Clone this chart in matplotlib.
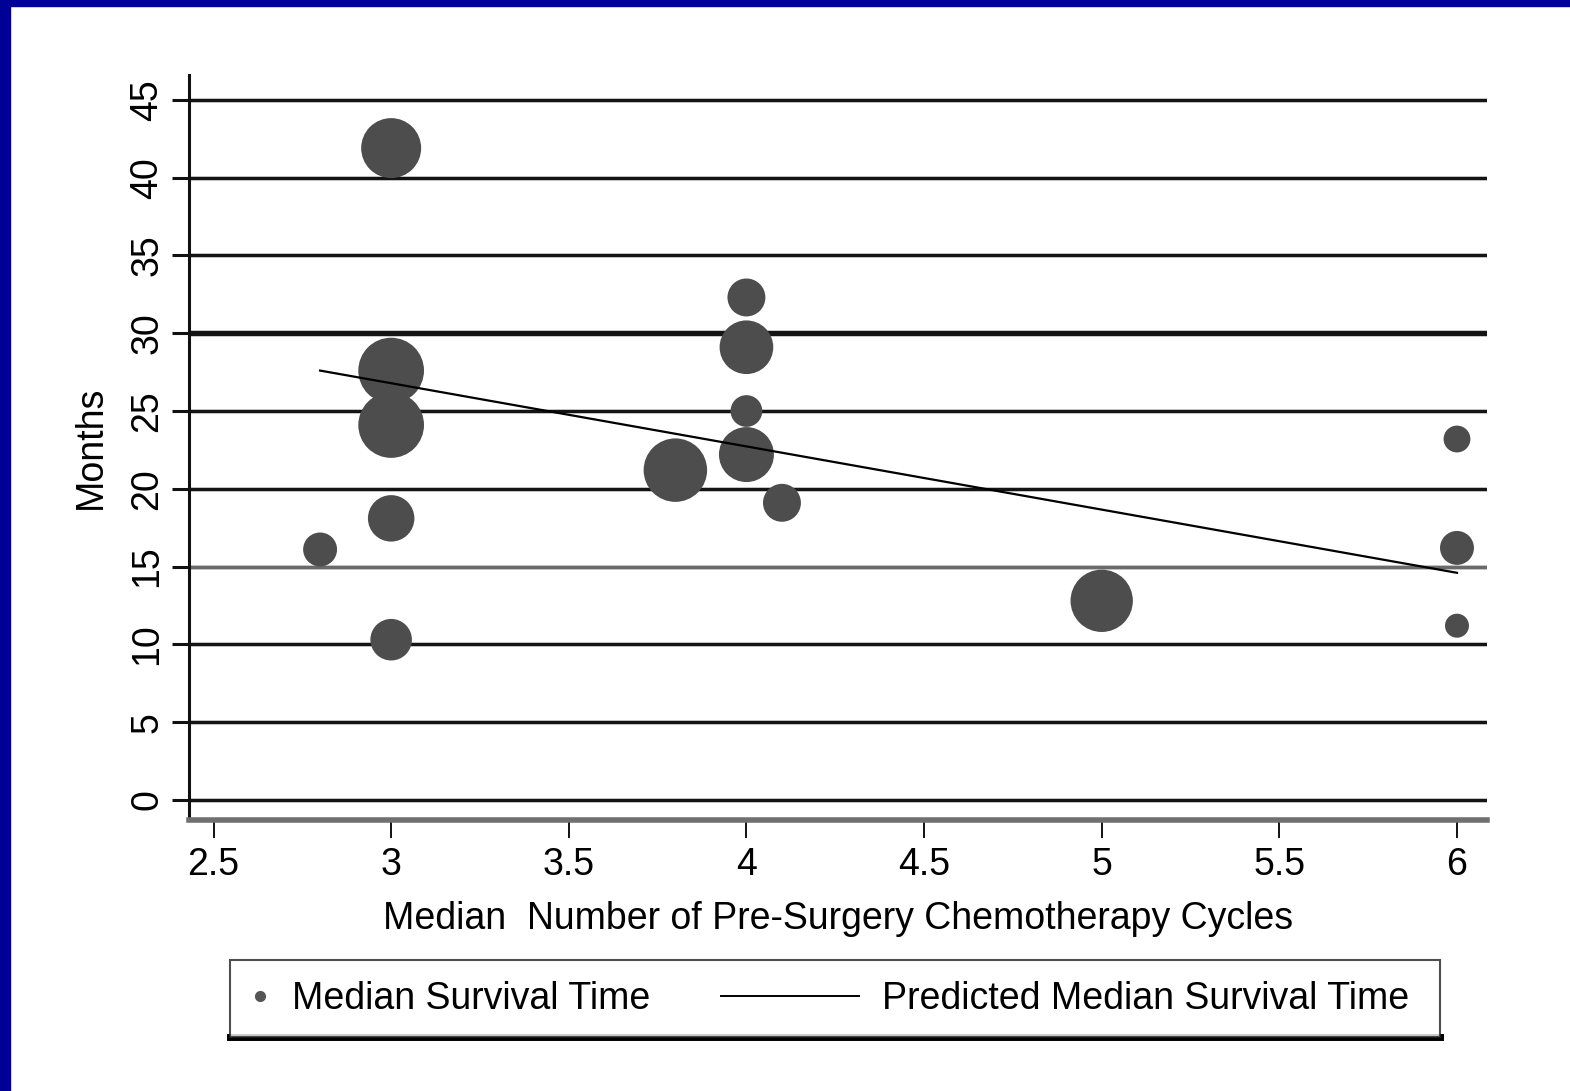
import matplotlib
matplotlib.use("Agg")
import matplotlib.pyplot as plt
import numpy as np
from matplotlib.lines import Line2D
from matplotlib.patches import Rectangle
from matplotlib.legend_handler import HandlerLine2D

plt.rcParams['font.family'] = ['Liberation Sans', 'DejaVu Sans']

# median number of cycles, median survival (months), relative study weight
cycles = [2.8, 3, 3, 3, 3, 3, 3.8, 4, 4, 4, 4, 4.1, 5, 6, 6, 6]
survival = [16.1, 41.9, 27.6, 24.1, 18.1, 10.3, 21.2, 32.3, 29.1, 25.0, 22.2, 19.1, 12.8, 23.2, 16.2, 11.2]
weight = [8, 25, 30, 30, 15, 12, 28, 10, 20, 7, 21, 10, 27, 5, 8, 4]

# fitted line end points
pred_x = [2.8, 6.0]
pred_y = [27.6, 14.6]

y_ticks = [0, 5, 10, 15, 20, 25, 30, 35, 40, 45]
x_ticks = [2.5, 3, 3.5, 4, 4.5, 5, 5.5, 6]
x_labels = ['2.5', '3', '3.5', '4', '4.5', '5', '5.5', '6']

fs = 27

fig = plt.figure(figsize=(15.7, 10.91), dpi=100)
fig.patch.set_facecolor('white')
# blue slide frame on the left and top
fig.add_artist(Rectangle((0, 0), 10 / 1570, 1, transform=fig.transFigure, color='#000099', zorder=0))
fig.add_artist(Rectangle((0, 1 - 6 / 1091), 1, 6 / 1091, transform=fig.transFigure, color='#000099', zorder=0))

ax = fig.add_axes([189 / 1570, 1 - 820 / 1091, (1487 - 189) / 1570, (820 - 75) / 1091])

# horizontal rules
for yv in y_ticks:
    lw = 3.6 if yv == 30 else 2.2
    col = '#6a6a6a' if yv == 15 else '#141414'
    ax.axhline(yv, color='#bdbdbd', lw=lw + 1.2, zorder=1)
    ax.axhline(yv, color=col, lw=lw, zorder=1.5)

s = np.array(weight) * 74.6
ax.scatter(cycles, survival, s=s, color='#4d4d4d', edgecolors='none', zorder=3)
ax.plot(pred_x, pred_y, color='black', lw=1.6, zorder=4)

ax.set_xlim(2.431, 6.0845)
ax.set_ylim(-1.29, 46.6)
ax.set_xticks(x_ticks)
ax.set_xticklabels(x_labels)
ax.set_yticks(y_ticks)

for side in ['top', 'right']:
    ax.spines[side].set_visible(False)
ax.spines['left'].set_color('#111111')
ax.spines['left'].set_linewidth(2.2)
ax.spines['bottom'].set_color('#707070')
ax.spines['bottom'].set_linewidth(4)

ax.tick_params(axis='x', length=13, width=1.4, color='#111111', pad=6.5, labelsize=fs)
ax.tick_params(axis='y', length=12, width=2.2, color='#111111', pad=5, labelsize=fs, labelrotation=90)
for t in ax.get_yticklabels():
    t.set_va('center')

ax.set_xlabel('Median  Number of Pre-Surgery Chemotherapy Cycles', fontsize=fs, labelpad=13)
ax.set_ylabel('Months', fontsize=fs, labelpad=15)


class LongLine(HandlerLine2D):
    def create_artists(self, legend, orig_handle, xdescent, ydescent, width, height, fontsize, trans):
        y = height / 2 - ydescent
        line = Line2D([width - 3.7 * fontsize, width], [y, y])
        self.update_prop(line, orig_handle, legend)
        line.set_transform(trans)
        return [line]


dot = Line2D([], [], marker='o', ls='none', color='#555555', markersize=7)
fit = Line2D([], [], color='black', lw=1.4)
leg = fig.legend([dot, fit], ['Median Survival Time', 'Predicted Median Survival Time '],
                 loc='upper left', bbox_to_anchor=(230 / 1570, 0.0, 1210 / 1570, 1 - 960 / 1091),
                 mode='expand', ncol=2, fontsize=fs, handlelength=0.5, handletextpad=0.6,
                 borderpad=0.55, borderaxespad=0, fancybox=False, edgecolor='#222222',
                 numpoints=1, handler_map={fit: LongLine()})
leg.get_frame().set_linewidth(1.5)

fig.canvas.draw()
bb = leg.get_window_extent().transformed(fig.transFigure.inverted())
fig.add_artist(Line2D([bb.x0, bb.x1], [bb.y0, bb.y0], transform=fig.transFigure,
                      color='black', lw=5))

fig.savefig('out.png', dpi=100)
